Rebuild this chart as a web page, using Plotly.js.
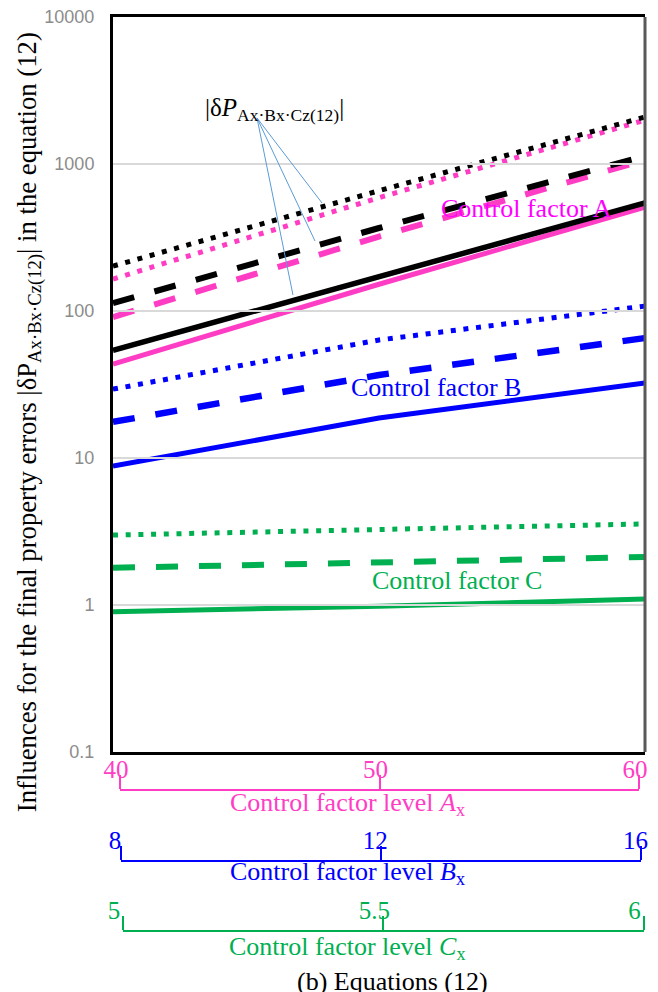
<!DOCTYPE html>
<html>
<head>
<meta charset="utf-8">
<script src="https://cdn.plot.ly/plotly-3.0.1.min.js"></script>
<style>html,body{margin:0;padding:0;background:#fff;}#chart{width:658px;height:992px;}</style>
</head>
<body>
<div id="chart"></div>
<script>
// ---- data ----
const levelA = [40, 50, 60];
const levelB = [8, 12, 16];
const levelC = [5, 5.5, 6];
const tickTextA = ['40', '50', '60'];
const tickTextB = ['8', '12', '16'];
const tickTextC = ['5', '5.5', '6'];
const yTickVals = [0.1, 1, 10, 100, 1000, 10000];
const yTickText = ['0.1', '1', '10', '100', '1000', '10000'];

// |dP Ax.Bx.Cz(12)| (black)
const totalSolid  = [54, 170, 543];
const totalDashed = [113, 367, 1132];
const totalDotted = [202, 658, 2090];
// control factor A (pink)
const factorASolid  = [43.6, 152, 509];
const factorADashed = [91, 321, 1064];
const factorADotted = [165, 590, 1990];
// control factor B (blue)
const factorBSolid  = [8.8, 18.7, 32.4];
const factorBDashed = [17.6, 36.7, 65.5];
const factorBDotted = [29.4, 63.5, 108];
// control factor C (green)
const factorCSolid  = [0.90, 0.98, 1.10];
const factorCDashed = [1.79, 1.93, 2.12];
const factorCDotted = [2.99, 3.24, 3.56];

// ---- styles ----
const PINK = '#FF3DC4', MAGENTA = '#FF00FF', BLUE = '#0000FF', GREEN = '#00B050', BLACK = '#000000';
const SERIF = 'Liberation Serif, serif';
const SANS = 'Liberation Sans, sans-serif';
const DOT = '5px,7.7px';
const DASH = '22px,21px';

function line(y, color, width, dash) {
  return {x: levelA, y: y, type: 'scatter', mode: 'lines', xaxis: 'x', yaxis: 'y',
          line: {color: color, width: width, dash: dash}, hoverinfo: 'skip', showlegend: false};
}
function helper(xs, axis) {
  return {x: xs, y: xs.map(() => null), type: 'scatter', mode: 'lines', xaxis: axis, yaxis: 'y',
          hoverinfo: 'skip', showlegend: false};
}

const traces = [
  line(factorCSolid, GREEN, 5, 'solid'),
  line(factorCDashed, GREEN, 6, DASH),
  line(factorCDotted, GREEN, 5, DOT),
  line(factorBSolid, BLUE, 5, 'solid'),
  line(factorBDashed, BLUE, 6.5, DASH),
  line(factorBDotted, BLUE, 5, DOT),
  line(factorASolid, PINK, 5, 'solid'),
  line(factorADashed, PINK, 6, DASH),
  line(factorADotted, PINK, 5, DOT),
  line(totalSolid, BLACK, 5.5, 'solid'),
  line(totalDashed, BLACK, 6, DASH),
  line(totalDotted, BLACK, 5, DOT),
  helper(levelA, 'x2'),
  helper(levelB, 'x3'),
  helper(levelC, 'x4')
];

function levelAxis(vals, labels, color, domain, pos, shift) {
  return {
    domain: domain, range: [vals[0], vals[vals.length - 1]], anchor: 'free', position: pos, side: 'top',
    tickmode: 'array', tickvals: vals, ticktext: labels, ticks: 'outside', ticklen: 14, tickwidth: 2,
    tickcolor: color, showline: true, linecolor: color, linewidth: 2, showgrid: false, zeroline: false,
    tickfont: {family: SERIF, size: 25, color: color}, ticklabelstandoff: -13, ticklabelshift: shift,
    fixedrange: true
  };
}

const yDom0 = 0.2037;
const layout = {
  width: 658, height: 992,
  margin: {l: 113, r: 13, t: 17, b: 52, pad: 0},
  paper_bgcolor: '#ffffff', plot_bgcolor: 'rgba(0,0,0,0)',
  showlegend: false,
  font: {family: SERIF},
  xaxis: {domain: [0, 1], range: [40, 60], showticklabels: false, ticks: '', showgrid: false, zeroline: false,
          showline: true, mirror: true, linecolor: BLACK, linewidth: 3, fixedrange: true},
  yaxis: {type: 'log', domain: [yDom0, 1], range: [-1, 4], tickmode: 'array', tickvals: yTickVals, ticktext: yTickText,
          showgrid: true, gridcolor: '#D9D9D9', gridwidth: 2, zeroline: false, ticks: '',
          showline: true, linecolor: BLACK, linewidth: 3, ticklabelstandoff: 12,
          tickfont: {family: SANS, size: 18, color: '#8C8C8C'}, fixedrange: true},
  xaxis2: levelAxis(levelA, tickTextA, PINK, [0.0132, 0.9887], 0.1625, -4),
  xaxis3: levelAxis(levelB, tickTextB, BLUE, [0.0150, 0.9934], 0.0856, -6),
  xaxis4: levelAxis(levelC, tickTextC, GREEN, [0.0188, 0.9974], 0.00975, -9),
  shapes: [
    {type: 'line', xref: 'paper', yref: 'paper', x0: 1, x1: 1, y0: yDom0, y1: 1, line: {color: '#595959', width: 3}},
    {type: 'line', xref: 'paper', yref: 'paper', x0: 0.2707, y0: 0.8906, x1: 0.3929, y1: 0.7985, line: {color: '#5B9BD5', width: 1}},
    {type: 'line', xref: 'paper', yref: 'paper', x0: 0.2707, y0: 0.8906, x1: 0.3797, y1: 0.7573, line: {color: '#5B9BD5', width: 1}},
    {type: 'line', xref: 'paper', yref: 'paper', x0: 0.2707, y0: 0.8906, x1: 0.3383, y1: 0.6988, line: {color: '#5B9BD5', width: 1}}
  ],
  annotations: [
    {xref: 'paper', yref: 'paper', x: -0.158, y: 0.561, textangle: -90, showarrow: false, xanchor: 'center', yanchor: 'middle',
     text: 'Influences for the final property errors |δP<sub>Ax·Bx·Cz(12)</sub>| in the equation (12)',
     font: {family: SERIF, size: 26.7, color: BLACK}},
    {xref: 'paper', yref: 'paper', x: 0.3045, y: 0.8993, showarrow: false, xanchor: 'center', yanchor: 'middle',
     text: '|δ<i>P</i><sub>Ax·Bx·Cz(12)</sub>|', font: {family: SERIF, size: 25, color: BLACK}},
    {xref: 'paper', yref: 'paper', x: 0.778, y: 0.792, showarrow: false, xanchor: 'center', yanchor: 'middle',
     text: 'Control factor A', font: {family: SERIF, size: 26, color: MAGENTA}},
    {xref: 'paper', yref: 'paper', x: 0.607, y: 0.599, showarrow: false, xanchor: 'center', yanchor: 'middle',
     text: 'Control factor B', font: {family: SERIF, size: 26, color: BLUE}},
    {xref: 'paper', yref: 'paper', x: 0.647, y: 0.390, showarrow: false, xanchor: 'center', yanchor: 'middle',
     text: 'Control factor C', font: {family: SERIF, size: 26, color: GREEN}},
    {xref: 'paper', yref: 'paper', x: 0.44, y: 0.1473, showarrow: false, xanchor: 'center', yanchor: 'middle',
     text: 'Control factor level <i>A</i><sub>x</sub>', font: {family: SERIF, size: 26, color: PINK}},
    {xref: 'paper', yref: 'paper', x: 0.44, y: 0.0726, showarrow: false, xanchor: 'center', yanchor: 'middle',
     text: 'Control factor level <i>B</i><sub>x</sub>', font: {family: SERIF, size: 26, color: BLUE}},
    {xref: 'paper', yref: 'paper', x: 0.44, y: -0.0087, showarrow: false, xanchor: 'center', yanchor: 'middle',
     text: 'Control factor level <i>C</i><sub>x</sub>', font: {family: SERIF, size: 26, color: GREEN}},
    {xref: 'paper', yref: 'paper', x: 0.526, y: -0.0455, showarrow: false, xanchor: 'center', yanchor: 'middle',
     text: '(b) Equations (12)', font: {family: SERIF, size: 26, color: BLACK}}
  ]
};

Plotly.newPlot('chart', traces, layout, {displayModeBar: false, staticPlot: true});
</script>
</body>
</html>
